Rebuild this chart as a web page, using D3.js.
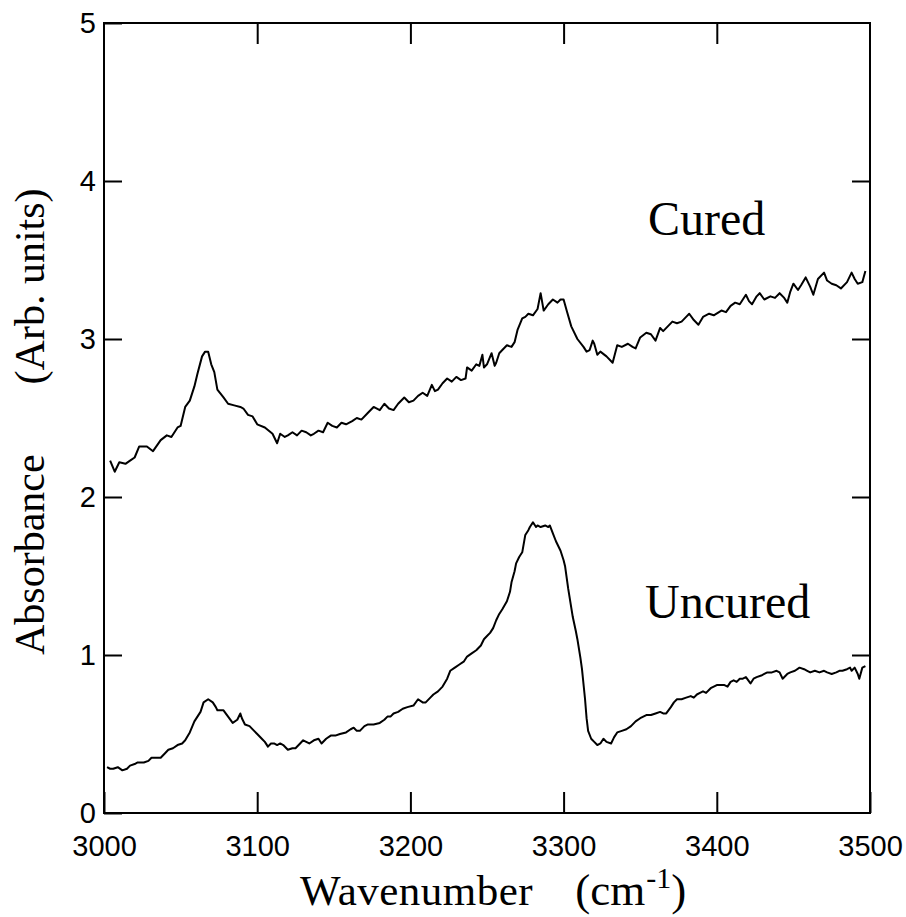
<!DOCTYPE html>
<html>
<head>
<meta charset="utf-8">
<script src="https://cdn.jsdelivr.net/npm/d3@7"></script>
<style>
  body { margin: 0; background: #fff; }
  .tick text { font-family: "Liberation Sans", sans-serif; font-size: 29px; fill: #000; }
  .tick line { stroke: #000; stroke-width: 2px; }
  .title { font-family: "Liberation Serif", serif; fill: #000; }
</style>
</head>
<body>
<script>
// x ticks and y ticks
var xTicks = [3000, 3100, 3200, 3300, 3400, 3500];
var yTicks = [0, 1, 2, 3, 4, 5];

// Cured spectrum (wavenumber, absorbance)
var curedWn = [3004,3007,3010,3014,3017,3020,3023,3028,3032,3037,3041,3044,3048,3050,3053,3056,3059,3061,3064,3066,3068,3070,3072,3074,3078,3081,3085,3089,3091,3094,3097,3100,3105,3110,3113,3115,3118,3120,3123,3126,3129,3132,3135,3137,3140,3143,3146,3149,3152,3155,3158,3162,3165,3168,3172,3176,3180,3183,3186,3189,3192,3196,3199,3202,3205,3208,3211,3214,3216,3218,3221,3224,3227,3230,3233,3236,3237,3240,3243,3245,3247,3248,3250,3253,3255,3256,3258,3260,3263,3266,3268,3270,3273,3275,3277,3280,3283,3285,3287,3290,3293,3296,3298,3300,3302,3305,3309,3313,3315,3317,3319,3320,3322,3324,3328,3332,3335,3338,3342,3345,3347,3350,3354,3357,3360,3363,3365,3368,3371,3374,3377,3380,3382,3385,3388,3391,3395,3398,3403,3406,3409,3412,3415,3419,3421,3423,3426,3428,3431,3435,3438,3441,3444,3446,3448,3450,3453,3455,3458,3461,3463,3466,3470,3472,3475,3478,3481,3485,3488,3490,3492,3495,3497];
var curedAbs = [2.23,2.16,2.22,2.21,2.23,2.25,2.32,2.32,2.29,2.36,2.39,2.38,2.44,2.45,2.57,2.61,2.70,2.78,2.89,2.92,2.92,2.84,2.79,2.68,2.63,2.59,2.58,2.57,2.56,2.52,2.51,2.46,2.44,2.40,2.34,2.40,2.38,2.39,2.41,2.39,2.42,2.41,2.39,2.40,2.42,2.41,2.47,2.45,2.44,2.47,2.46,2.48,2.50,2.49,2.53,2.57,2.55,2.59,2.56,2.55,2.59,2.63,2.60,2.61,2.64,2.66,2.64,2.71,2.67,2.68,2.72,2.75,2.73,2.76,2.74,2.75,2.82,2.80,2.84,2.83,2.90,2.82,2.84,2.91,2.83,2.85,2.91,2.93,2.96,2.95,2.98,3.06,3.13,3.14,3.16,3.15,3.19,3.29,3.18,3.22,3.25,3.23,3.25,3.25,3.18,3.08,3.00,2.95,2.92,2.93,2.99,2.97,2.90,2.92,2.89,2.85,2.96,2.95,2.97,2.95,2.94,3.01,3.04,3.03,2.99,3.07,3.05,3.08,3.11,3.10,3.11,3.14,3.16,3.12,3.09,3.14,3.16,3.15,3.18,3.17,3.21,3.23,3.22,3.28,3.24,3.22,3.27,3.29,3.25,3.27,3.26,3.29,3.26,3.23,3.30,3.35,3.31,3.34,3.39,3.33,3.28,3.38,3.42,3.37,3.35,3.34,3.32,3.36,3.42,3.38,3.35,3.36,3.43];

// Uncured spectrum
var uncuredWn = [3002,3004,3006,3009,3012,3015,3017,3020,3022,3026,3029,3031,3034,3037,3040,3042,3045,3048,3051,3053,3056,3059,3061,3063,3065,3068,3071,3073,3074,3078,3081,3084,3087,3089,3090,3092,3095,3098,3100,3103,3105,3107,3109,3111,3113,3115,3117,3120,3123,3125,3128,3130,3132,3134,3137,3140,3142,3145,3148,3151,3154,3158,3161,3163,3165,3167,3170,3172,3176,3180,3183,3185,3187,3189,3192,3195,3198,3202,3205,3208,3210,3213,3215,3218,3221,3224,3226,3229,3232,3235,3237,3240,3243,3246,3248,3250,3252,3254,3256,3258,3260,3263,3265,3266,3268,3269,3271,3273,3275,3277,3278,3280,3282,3283,3285,3288,3290,3291,3293,3295,3298,3300,3301,3303,3305,3306,3308,3309,3311,3312,3314,3315,3316,3318,3320,3322,3324,3326,3328,3331,3333,3335,3338,3341,3344,3347,3350,3352,3354,3357,3360,3363,3365,3367,3370,3372,3374,3377,3380,3383,3385,3387,3389,3391,3393,3396,3398,3400,3402,3405,3407,3409,3411,3413,3415,3417,3419,3422,3424,3426,3429,3431,3433,3436,3439,3441,3443,3446,3448,3451,3454,3457,3459,3461,3464,3467,3470,3472,3475,3478,3480,3482,3485,3487,3488,3490,3492,3493,3495,3497];
var uncuredAbs = [0.29,0.28,0.28,0.29,0.27,0.28,0.30,0.31,0.32,0.32,0.33,0.35,0.35,0.35,0.38,0.40,0.41,0.43,0.44,0.46,0.51,0.58,0.61,0.64,0.70,0.72,0.70,0.67,0.65,0.65,0.61,0.57,0.59,0.63,0.60,0.56,0.55,0.52,0.50,0.47,0.45,0.42,0.44,0.44,0.43,0.44,0.43,0.40,0.41,0.41,0.44,0.46,0.45,0.44,0.46,0.47,0.44,0.47,0.49,0.49,0.50,0.51,0.53,0.54,0.52,0.52,0.55,0.56,0.56,0.57,0.59,0.61,0.61,0.63,0.64,0.66,0.67,0.68,0.72,0.70,0.70,0.73,0.75,0.77,0.80,0.85,0.90,0.92,0.94,0.96,0.99,1.01,1.03,1.06,1.10,1.12,1.14,1.17,1.22,1.26,1.29,1.34,1.40,1.46,1.53,1.58,1.62,1.65,1.76,1.79,1.81,1.84,1.81,1.82,1.81,1.82,1.81,1.82,1.77,1.72,1.66,1.60,1.56,1.42,1.30,1.24,1.15,1.10,0.98,0.91,0.72,0.60,0.52,0.47,0.45,0.43,0.44,0.47,0.45,0.44,0.48,0.51,0.52,0.53,0.55,0.58,0.60,0.61,0.62,0.62,0.63,0.64,0.63,0.63,0.67,0.70,0.72,0.72,0.73,0.74,0.73,0.75,0.76,0.77,0.76,0.79,0.80,0.81,0.81,0.81,0.80,0.83,0.84,0.83,0.85,0.85,0.86,0.82,0.85,0.86,0.87,0.88,0.89,0.89,0.90,0.89,0.85,0.88,0.89,0.90,0.92,0.91,0.90,0.89,0.90,0.89,0.90,0.89,0.88,0.89,0.90,0.90,0.91,0.92,0.90,0.92,0.88,0.85,0.92,0.93];

var W = 906, H = 917;
var margin = {left: 104, right: 870, top: 23, bottom: 813};

var svg = d3.select("body").append("svg")
    .attr("width", W)
    .attr("height", H);

var x = d3.scaleLinear().domain([3000, 3500]).range([margin.left, margin.right]);
var y = d3.scaleLinear().domain([0, 5]).range([margin.bottom, margin.top]);

// ticks, all pointing inward
svg.append("g")
    .attr("transform", "translate(0," + margin.bottom + ")")
    .call(d3.axisBottom(x).tickValues(xTicks).tickSizeInner(-21).tickSizeOuter(0).tickPadding(22).tickFormat(d3.format("d")));
svg.append("g")
    .attr("transform", "translate(0," + margin.top + ")")
    .call(d3.axisTop(x).tickValues(xTicks.slice(1, -1)).tickSizeInner(-21).tickSizeOuter(0).tickFormat(""));
svg.append("g")
    .attr("transform", "translate(" + margin.left + ",0)")
    .call(d3.axisLeft(y).tickValues(yTicks).tickSizeInner(-18).tickSizeOuter(0).tickPadding(8).tickFormat(d3.format("d")));
svg.append("g")
    .attr("transform", "translate(" + margin.right + ",0)")
    .call(d3.axisRight(y).tickValues(yTicks.slice(1, -1)).tickSizeInner(-18).tickSizeOuter(0).tickFormat(""));
svg.selectAll(".domain").remove();

// frame
svg.append("rect")
    .attr("x", margin.left).attr("y", margin.top)
    .attr("width", margin.right - margin.left).attr("height", margin.bottom - margin.top)
    .attr("fill", "none").attr("stroke", "#000").attr("stroke-width", 2);

var line = d3.line()
    .x(function(d) { return x(d[0]); })
    .y(function(d) { return y(d[1]); });

svg.append("path")
    .datum(d3.zip(curedWn, curedAbs))
    .attr("d", line)
    .attr("fill", "none").attr("stroke", "#000").attr("stroke-width", 2)
    .attr("stroke-linejoin", "round");

svg.append("path")
    .datum(d3.zip(uncuredWn, uncuredAbs))
    .attr("d", line)
    .attr("fill", "none").attr("stroke", "#000").attr("stroke-width", 2)
    .attr("stroke-linejoin", "round");

// curve labels
svg.append("text").attr("class", "title")
    .attr("x", 648).attr("y", 235)
    .style("font-size", "48px")
    .text("Cured");
svg.append("text").attr("class", "title")
    .attr("x", 645).attr("y", 618)
    .style("font-size", "48px")
    .text("Uncured");

// x axis title
var xt = svg.append("text").attr("class", "title")
    .attr("x", 300).attr("y", 905)
    .style("font-size", "43px");
xt.append("tspan").style("letter-spacing", "0.5px").text("Wavenumber");
xt.append("tspan").attr("dx", 42).style("font-size", "45px").text("(cm");
xt.append("tspan").attr("dy", -17).attr("dx", 1).style("font-size", "30px").text("-1");
xt.append("tspan").attr("dy", 17).style("font-size", "45px").text(")");

// y axis title
var yt = svg.append("text").attr("class", "title")
    .attr("transform", "translate(44,655) rotate(-90)")
    .style("font-size", "42px");
yt.append("tspan").text("Absorbance");
yt.append("tspan").attr("dx", 70).text("(Arb. units)");
</script>
</body>
</html>
